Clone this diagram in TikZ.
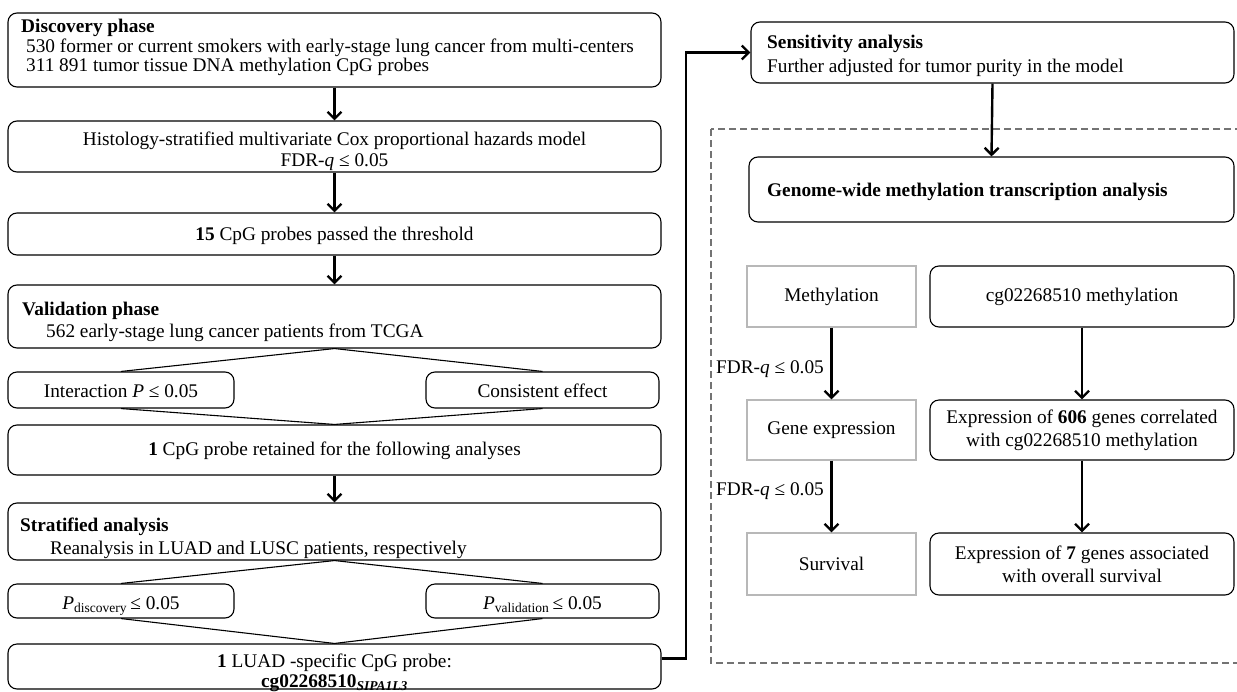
\documentclass[tikz,border=0pt]{standalone}
\usepackage{fontspec}
\setmainfont{Liberation Serif}
\usetikzlibrary{arrows.meta}
\begin{document}
\begin{tikzpicture}[x=1pt,y=1pt,
 box/.style={draw=black, line width=1.1pt, rounded corners=9pt, inner sep=0pt},
 gbox/.style={draw=black!28, line width=1.1pt, inner sep=0pt},
 arr/.style={line width=2.4pt, -{Straight Barb[length=7pt,width=14pt,line width=2.4pt]}},
 lnk/.style={line width=1.1pt},
 t/.style={font=\fontsize{19.3}{23}\selectfont, inner sep=0pt},
 dbox/.style={draw=black!55, line width=1.4pt, dash pattern=on 7pt off 4pt},
]
\useasboundingbox (0,0) rectangle (1237,-691);
\fill[white] (0,0) rectangle (1237,-691);

% left column boxes
\node[box, minimum width=653, minimum height=74] (disc) at (334.5,-50) {};
\node[box, minimum width=653, minimum height=51] (hist) at (334.5,-146.5) {};
\node[box, minimum width=653, minimum height=42] (cpg15) at (334.5,-234) {};
\node[box, minimum width=653, minimum height=63] (valid) at (334.5,-316.5) {};
\node[box, minimum width=226, minimum height=36] (inter) at (121,-390) {};
\node[box, minimum width=233, minimum height=36] (cons) at (542.5,-390) {};
\node[box, minimum width=653, minimum height=50] (cpg1) at (334.5,-450) {};
\node[box, minimum width=653, minimum height=57] (strat) at (334.5,-531.5) {};
\node[box, minimum width=226, minimum height=34] (pdis) at (121,-601) {};
\node[box, minimum width=233, minimum height=34] (pval) at (542.5,-601) {};
\node[box, minimum width=653, minimum height=45] (luad) at (334.5,-666.5) {};

% left column texts
\node[t, anchor=base west] (tdisc1) at (21,-32) {\textbf{Discovery phase}};
\node[t, anchor=base west] (tdisc2) at (26,-52) {530 former or current smokers with early-stage lung cancer from multi-centers};
\node[t, anchor=base west] (tdisc3) at (26,-71) {311 891 tumor tissue DNA methylation CpG probes};
\node[t, anchor=base] (thist1) at (334.5,-145) {Histology-stratified multivariate Cox proportional hazards model};
\node[t, anchor=base] (thist2) at (334.5,-166) {FDR-\textit{q} ≤ 0.05};
\node[t, anchor=base] (tcpg15) at (334.5,-240) {\textbf{15} CpG probes passed the threshold};
\node[t, anchor=base west] (tval1) at (22,-315) {\textbf{Validation phase}};
\node[t, anchor=base west] (tval2) at (46,-337) {562 early-stage lung cancer patients from TCGA};
\node[t, anchor=base] (tinter) at (121,-397) {Interaction \textit{P} ≤ 0.05};
\node[t, anchor=base] (tcons) at (542.5,-397) {Consistent effect};
\node[t, anchor=base] (tcpg1) at (334.5,-455) {\textbf{1} CpG probe retained for the following analyses};
\node[t, anchor=base west] (tstr1) at (20,-531) {\textbf{Stratified analysis}};
\node[t, anchor=base west] (tstr2) at (50,-554) {Reanalysis in LUAD and LUSC patients, respectively};
\node[t, anchor=base] (tpdis) at (121,-609) {\textit{P}\textsubscript{discovery}\,≤ 0.05};
\node[t, anchor=base] (tpval) at (542.5,-609) {\textit{P}\textsubscript{validation}\,≤ 0.05};
\node[t, anchor=base] (tluad1) at (334.5,-667) {\textbf{1} LUAD -specific CpG probe:};
\node[t, anchor=base] (tluad2) at (334.5,-687) {\textbf{cg02268510}\textsubscript{\textbf{\textit{SIPA1L3}}}};

% left column connectors
\draw[arr] (disc.south) -- (hist.north);
\draw[arr] (hist.south) -- (cpg15.north);
\draw[arr] (cpg15.south) -- (valid.north);
\draw[lnk] (inter.north) -- (valid.south) -- (cons.north);
\draw[lnk] (inter.south) -- (cpg1.north) -- (cons.south);
\draw[arr] (cpg1.south) -- (strat.north);
\draw[lnk] (pdis.north) -- (strat.south) -- (pval.north);
\draw[lnk] (pdis.south) -- (luad.north) -- (pval.south);

% right side
\draw[dbox] (711,-129) rectangle (1240,-663);
\node[box, minimum width=483, minimum height=61] (sens) at (992.5,-52.5) {};
\node[t, anchor=base west] (tsens1) at (767,-48) {\textbf{Sensitivity analysis}};
\node[t, anchor=base west] (tsens2) at (767,-72) {Further adjusted for tumor purity in the model};
\node[box, minimum width=485, minimum height=65] (gen) at (991.5,-189.5) {};
\node[t, anchor=base west] (tgen) at (767,-196) {\textbf{Genome-wide methylation transcription analysis}};

\node[gbox, minimum width=169, minimum height=61] (meth) at (831.5,-296.5) {};
\node[t] (tmeth) at (meth) {Methylation};
\node[box, minimum width=304, minimum height=61] (cgm) at (1082,-296.5) {};
\node[t] (tcgm) at (cgm) {cg02268510 methylation};
\node[gbox, minimum width=169, minimum height=60] (gexp) at (831.5,-430) {};
\node[t] (tgexp) at (gexp) {Gene expression};
\node[box, minimum width=304, minimum height=60] (e606) at (1082,-430) {};
\node[t, align=center] (te606) at (e606) {Expression of \textbf{606} genes correlated\\with cg02268510 methylation};
\node[gbox, minimum width=169, minimum height=62] (surv) at (831.5,-564) {};
\node[t] (tsurv) at (surv) {Survival};
\node[box, minimum width=304, minimum height=62] (e7) at (1082,-564) {};
\node[t, align=center] (te7) at (e7) {Expression of \textbf{7} genes associated\\with overall survival};

\draw[arr] (sens.south) -- (gen.north);
\draw[arr] (meth.south) -- (gexp.north);
\draw[arr] (gexp.south) -- (surv.north);
\draw[arr] (cgm.south) -- (e606.north);
\draw[arr] (e606.south) -- (e7.north);
\node[t, anchor=base east] (fdr1) at (824,-373) {FDR-\textit{q} ≤ 0.05};
\node[t, anchor=base east] (fdr2) at (824,-495) {FDR-\textit{q} ≤ 0.05};

% long connector
\coordinate (turn) at (686,-52.5);
\draw[arr] ([yshift=8pt]luad.east) -| (turn) -- (sens.west);
\end{tikzpicture}
\end{document}
